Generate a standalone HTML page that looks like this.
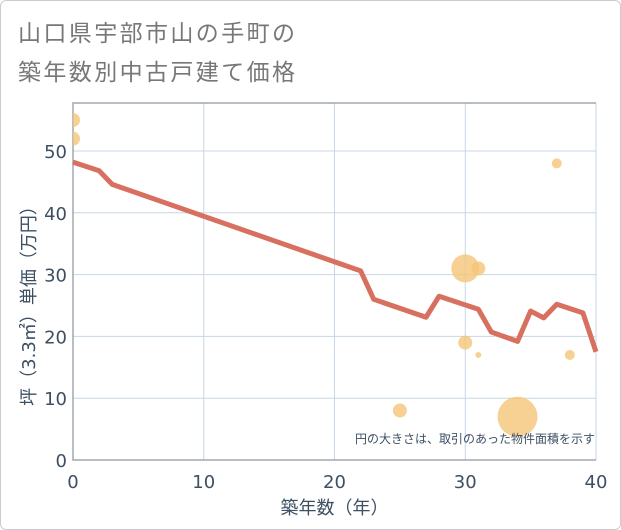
<!DOCTYPE html>
<html><head><meta charset="utf-8">
<style>
body{margin:0;background:#fff;font-family:"Liberation Sans","Noto Sans CJK JP",sans-serif;}
#wrap{position:relative;width:621px;height:530px;overflow:hidden;}
#frame{position:absolute;left:0;top:0;width:619px;height:528px;border:1px solid #ccc;border-radius:6px;}
.title{position:absolute;left:18px;font-size:23px;color:#777;letter-spacing:2.4px;}
svg text{font-family:"DejaVu Sans","Noto Sans CJK JP",sans-serif;}
</style></head><body>
<div id="wrap">
<div id="frame"></div>
<div class="title" style="top:14px">山口県宇部市山の手町の</div>
<div class="title" style="top:53px">築年数別中古戸建て価格</div>
<svg id="chart" width="621" height="530" style="position:absolute;left:0;top:0"></svg>
</div>
<script>
const xTicks=[0,10,20,30,40];
const yTicks=[0,10,20,30,40,50];
const lineYears=[0,2,3,22,23,27,28,31,32,34,35,36,37,39,40];
const lineValues=[48.2,46.8,44.6,30.6,26,23.1,26.5,24.4,20.7,19.2,24.1,23,25.2,23.8,17.5];
const bubbleYears=[0,0,37,30,31,30,31,38,25,34];
const bubbleValues=[55,52,48,31,31,19,17,17,8,7];
const bubbleSizes=[7,7,5,14,7,7,3,5,7,20];
const L=73,R=596,T=103,B=460;
const X=v=>L+(v-0)/40*(R-L);
const Y=v=>B-v/50*(B-151);
const svg=document.getElementById('chart');
const NS='http://www.w3.org/2000/svg';
function mk(t,a){const e=document.createElementNS(NS,t);for(const k in a)e.setAttribute(k,a[k]);svg.appendChild(e);return e;}
const defs=mk('defs',{});
const cp=document.createElementNS(NS,'clipPath');cp.setAttribute('id','clip');
const cr=document.createElementNS(NS,'rect');cr.setAttribute('x',L);cr.setAttribute('y',T);cr.setAttribute('width',R-L);cr.setAttribute('height',B-T);
cp.appendChild(cr);defs.appendChild(cp);
yTicks.forEach(v=>{
 const g=mk('line',{x1:L,x2:R,y1:Y(v),y2:Y(v),stroke:'#c8d6e4','stroke-width':1});
 
 
 const t=mk('text',{x:L-6,y:Y(v)+7,'text-anchor':'end','font-size':18,fill:'#3d4f63'});t.textContent=v;
 
 
});
xTicks.forEach(v=>{
 const g=mk('line',{x1:X(v),x2:X(v),y1:T,y2:B,stroke:'#c8d6e4','stroke-width':1});
 
 
 const t=mk('text',{x:X(v),y:B+28,'text-anchor':'middle','font-size':18,fill:'#3d4f63'});t.textContent=v;
 
 
});
const ax=mk('path',{d:`M${R} ${T}H${L}V${B}H${R}`,fill:'none',stroke:'#a0a8b0','stroke-width':1.5});


const bg=mk('g',{'clip-path':'url(#clip)'});
bubbleYears.forEach((yr,i)=>{
 const c=document.createElementNS(NS,'circle');
 c.setAttribute('cx',X(yr));c.setAttribute('cy',Y(bubbleValues[i]));c.setAttribute('r',bubbleSizes[i]);
 c.setAttribute('fill','#f5c578');c.setAttribute('fill-opacity','0.8');
 
 
 bg.appendChild(c);
});
const pl=mk('polyline',{points:lineYears.map((y,i)=>X(y)+','+Y(lineValues[i])).join(' '),fill:'none',stroke:'#d87060','stroke-width':5,'stroke-linejoin':'round'});


const note=mk('text',{x:595,y:443,'text-anchor':'end','font-size':12,fill:'#3d4f63'});note.textContent='円の大きさは、取引のあった物件面積を示す';


const xt=mk('text',{x:(L+R)/2,y:514,'text-anchor':'middle','font-size':18,fill:'#3d4f63'});xt.textContent='築年数（年）';


const yt=mk('text',{x:0,y:0,'text-anchor':'middle','font-size':18,fill:'#3d4f63',transform:`translate(35,${(T+B)/2+20}) rotate(-90)`});yt.textContent='坪（3.3㎡）単価（万円）';


</script>
</body></html>
